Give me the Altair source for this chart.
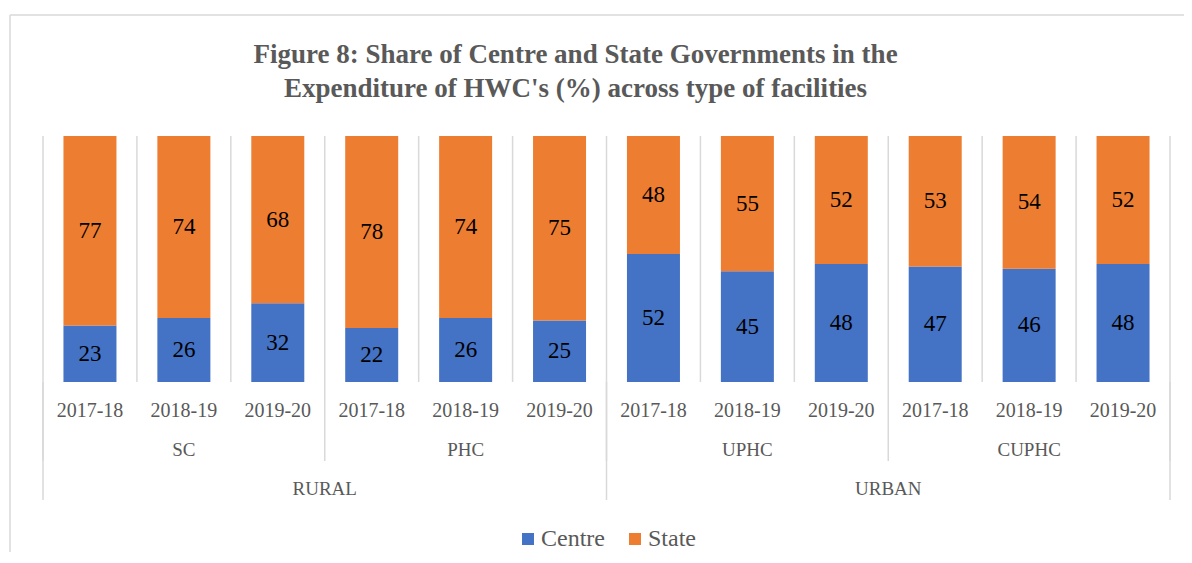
import altair as alt
import pandas as pd

# ---- data ----
regions = ["RURAL"] * 6 + ["URBAN"] * 6
facilities = ["SC"] * 3 + ["PHC"] * 3 + ["UPHC"] * 3 + ["CUPHC"] * 3
years = ["2017-18", "2018-19", "2019-20"] * 4
centre = [23, 26, 32, 22, 26, 25, 52, 45, 48, 47, 46, 48]
state = [77, 74, 68, 78, 74, 75, 48, 55, 52, 53, 54, 52]
series_names = ["Centre", "State"]
series_colors = ["#4472C4", "#ED7D31"]
title_lines = [
    "Figure 8: Share of Centre and State Governments in the",
    "Expenditure of HWC's (%) across type of facilities",
]

# ---- tables built from the arrays ----
n = len(years)
cat_df = pd.DataFrame({
    "idx": list(range(n)),
    "year": years,
    "facility": facilities,
    "region": regions,
})
cat_df["pos"] = cat_df["idx"] + 0.5

rows = []
for i in range(n):
    for k, (name, vals) in enumerate(zip(series_names, [centre, state])):
        rows.append({"idx": i, "pos": i + 0.5, "series": name, "order": k, "value": vals[i]})
df = pd.DataFrame(rows)

all_bounds = pd.DataFrame({"b": list(range(n + 1))})
fac_b = [0] + [i for i in range(1, n) if facilities[i] != facilities[i - 1]] + [n]
reg_b = [0] + [i for i in range(1, n) if regions[i] != regions[i - 1]] + [n]
fac_bounds = pd.DataFrame({"b": fac_b})
reg_bounds = pd.DataFrame({"b": reg_b})

W, H = 1137, 246
FONT = "Liberation Serif"
GRAY = "#595959"
LINE = "#d9d9d9"

xscale = alt.Scale(domain=[0, n], nice=False, zero=False)
yscale = alt.Scale(domain=[0, 100], nice=False)

# outer chart-area border (top and left edges; the others lie beyond the picture)
one = pd.DataFrame({"a": [0]})
border_top = alt.Chart(one).mark_rule(color=LINE, strokeWidth=1.5).encode(
    x=alt.value(-28), x2=alt.value(W + 9), y=alt.value(-121)
)
border_left = alt.Chart(one).mark_rule(color=LINE, strokeWidth=1.5).encode(
    x=alt.value(-28), y=alt.value(-121), y2=alt.value(H + 170)
)

grid = alt.Chart(all_bounds).mark_rule(color=LINE, strokeWidth=1.5).encode(
    x=alt.X("b:Q", scale=xscale, axis=None),
    y=alt.value(0), y2=alt.value(H),
)
fac_rules = alt.Chart(fac_bounds).mark_rule(color=LINE, strokeWidth=1.5).encode(
    x=alt.X("b:Q", scale=xscale, axis=None),
    y=alt.value(H), y2=alt.value(H + 79),
)
reg_rules = alt.Chart(reg_bounds).mark_rule(color=LINE, strokeWidth=1.5).encode(
    x=alt.X("b:Q", scale=xscale, axis=None),
    y=alt.value(H), y2=alt.value(H + 118),
)

bars = alt.Chart(df).mark_bar(size=53).encode(
    x=alt.X("pos:Q", scale=xscale,
            axis=alt.Axis(labels=False, ticks=False, grid=False, title=None,
                          domainColor=LINE, domainWidth=1.5)),
    y=alt.Y("value:Q", stack="zero", scale=yscale, axis=None),
    color=alt.Color(
        "series:N",
        scale=alt.Scale(domain=series_names, range=series_colors),
        legend=alt.Legend(
            orient="none", legendX=478, legendY=391, direction="horizontal",
            title=None, symbolType="square", symbolSize=144, symbolStrokeWidth=0,
            labelFont=FONT, labelFontSize=24, labelColor=GRAY, labelOffset=1,
            columnPadding=18, padding=0,
        ),
    ),
    order=alt.Order("order:Q"),
)

value_labels = alt.Chart(df).transform_stack(
    stack="value", groupby=["idx"], as_=["y0", "y1"],
    sort=[alt.SortField("order", order="ascending")],
).transform_calculate(
    mid="(datum.y0 + datum.y1) / 2"
).mark_text(font=FONT, fontSize=23, color="#000000", baseline="middle").encode(
    x=alt.X("pos:Q", scale=xscale),
    y=alt.Y("mid:Q", scale=yscale),
    text=alt.Text("value:Q"),
)

year_text = alt.Chart(cat_df).mark_text(
    font=FONT, fontSize=20, color=GRAY, baseline="alphabetic"
).encode(
    x=alt.X("pos:Q", scale=xscale), y=alt.value(H + 35), text="year:N"
)

fac_text = alt.Chart(cat_df).transform_aggregate(
    mid="mean(pos)", groupby=["facility"]
).mark_text(font=FONT, fontSize=19, color=GRAY, baseline="alphabetic").encode(
    x=alt.X("mid:Q", scale=xscale), y=alt.value(H + 74), text="facility:N"
)

reg_text = alt.Chart(cat_df).transform_aggregate(
    mid="mean(pos)", groupby=["region"]
).mark_text(font=FONT, fontSize=19, color=GRAY, baseline="alphabetic").encode(
    x=alt.X("mid:Q", scale=xscale), y=alt.value(H + 113), text="region:N"
)

chart = alt.layer(
    border_top, border_left, grid, fac_rules, reg_rules, bars, value_labels,
    year_text, fac_text, reg_text
).properties(
    width=W, height=H,
    padding={"left": 30, "top": 128, "right": 9, "bottom": 170},
    autosize=alt.AutoSizeParams(type="none"),
    title=alt.TitleParams(
        text=title_lines, font=FONT, fontSize=27, fontWeight="bold", color=GRAY,
        lineHeight=34, anchor="middle", orient="top", offset=0, baseline="bottom",
        dx=-31, dy=116,
    ),
).configure(font=FONT).configure_view(stroke=None).configure_legend(
    labelFont=FONT
)

chart.save("out.html", embed_options={"renderer": "svg", "actions": False})
